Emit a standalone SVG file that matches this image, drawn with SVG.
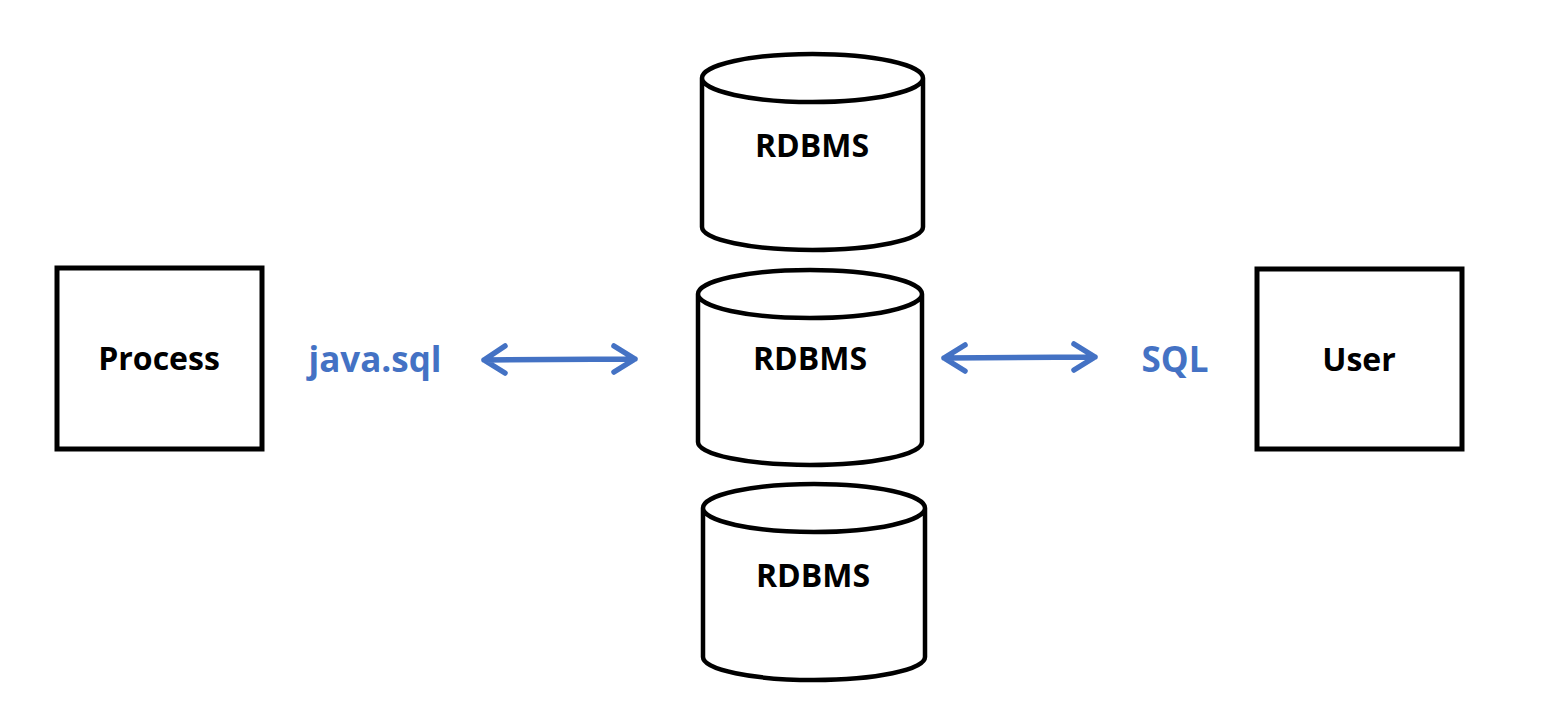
<svg xmlns="http://www.w3.org/2000/svg" width="1542" height="726" viewBox="0 0 1542 726">
<style>
.box{fill:#fff;stroke:#000;stroke-width:5}
.cyl{fill:#fff;stroke:#000;stroke-width:4.5}
.t{font-family:"Open Sans","Liberation Sans",sans-serif;font-weight:700;font-size:32px;fill:#000;text-anchor:middle}
.lbl{font-family:"Open Sans","Liberation Sans",sans-serif;font-weight:700;font-size:35px;fill:#4472C4;text-anchor:middle}
.arr{fill:none;stroke:#4472C4;stroke-width:5.5;stroke-linecap:round;stroke-linejoin:round}
</style>
<rect width="1542" height="726" fill="#fff"/>
<g id="process">
<rect class="box" x="57" y="268" width="205" height="181"/>
<text class="t" x="159" y="370">Process</text>
</g>
<g id="user">
<rect class="box" x="1257" y="269" width="205" height="180"/>
<text class="t" x="1359" y="371">User</text>
</g>
<g id="rdbms1">
<path class="cyl" d="M702,78 L702,227 A110.5,23 0 0 0 923,227 L923,78 A110.5,24 0 0 0 702,78 A110.5,24 0 0 0 923,78"/>
<text class="t" x="812" y="157">RDBMS</text>
</g>
<g id="rdbms2">
<path class="cyl" d="M698,294 L698,442 A112,23 0 0 0 922,442 L922,294 A112,24 0 0 0 698,294 A112,24 0 0 0 922,294"/>
<text class="t" x="810" y="370">RDBMS</text>
</g>
<g id="rdbms3">
<path class="cyl" d="M703,508 L703,657 A111,23 0 0 0 925,657 L925,508 A111,24 0 0 0 703,508 A111,24 0 0 0 925,508"/>
<text class="t" x="813" y="587">RDBMS</text>
</g>
<g id="labels">
<text class="lbl" x="375" y="372">java.sql</text>
<text class="lbl" x="1175" y="372">SQL</text>
</g>
<g id="connectors">
<path class="arr" d="M484,360 L635,359 M505,346 L484,360 L505,373 M614,346 L635,359 L614,372"/>
<path class="arr" d="M944,358 L1095,357 M965,345 L944,358 L965,371 M1074,344 L1095,357 L1074,370"/>
</g>
</svg>
